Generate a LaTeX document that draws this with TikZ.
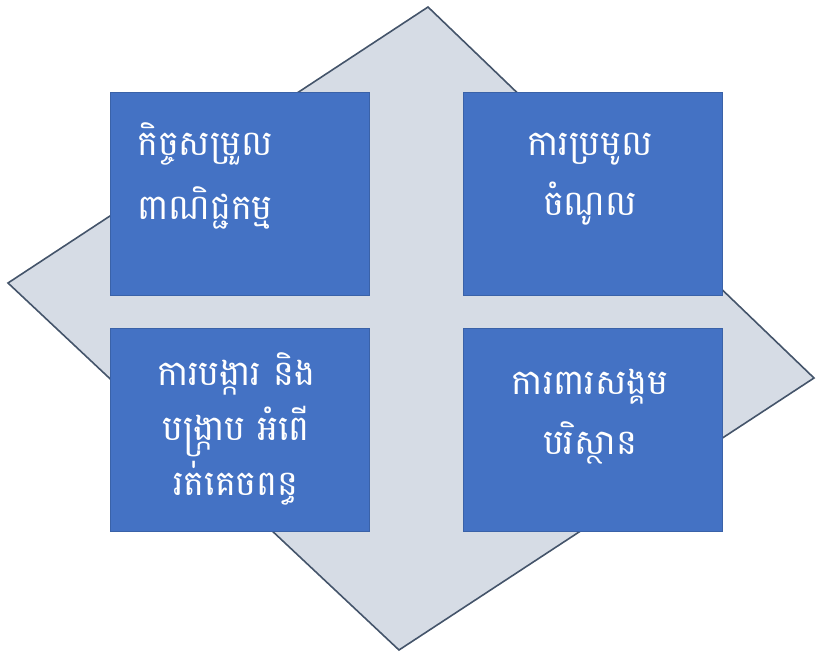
\documentclass[tikz,border=0pt]{standalone}
\usepackage{fontspec}
\newfontfamily\khmerfont[Script=Khmer]{Battambang}
\usetikzlibrary{positioning}
\definecolor{tileblue}{HTML}{4472C4}
\definecolor{tileline}{HTML}{3A62A8}
\definecolor{backfill}{HTML}{D6DCE5}
\definecolor{backline}{HTML}{44546A}

\begin{document}
\begin{tikzpicture}[
        x=1pt, y=-1pt,
        font=\khmerfont\fontsize{35}{60}\selectfont,
        back/.style={draw=backline, line width=1.6pt, fill=backfill},
        tile/.style={draw=tileline, line width=0.8pt, fill=tileblue,
            minimum width=259pt, minimum height=203pt, inner sep=0pt},
        label/.style={text=white, inner sep=0pt, align=center}
    ]
        \useasboundingbox (0,0) rectangle (816,653);

        % background diamond
        \coordinate (top) at (428,7);
        \coordinate (right) at (814,378);
        \coordinate (bottom) at (399,650);
        \coordinate (left) at (8,283);
        \draw[back] (top) -- (right) -- (bottom) -- (left) -- cycle;

        % four tiles
        \node[tile] (trade) at (239.5,193.5) {};
        \node[tile] (revenue) at (592.5,193.5) {};
        \node[tile] (smuggle) at (239.5,430) {};
        \node[tile] (protect) at (592.5,430) {};

        \node[label, align=left, anchor=west,
            font=\khmerfont\fontsize{35}{64}\selectfont] (tradeText) at (137,176) {
            កិច្ចសម្រួល\\
            ពាណិជ្ជកម្ម
        };
        \node[label] (revenueText) at (590,179) {
            ការប្រមូល\\
            ចំណូល
        };
        \node[label, font=\khmerfont\fontsize{35}{55}\selectfont] (smuggleText) at (236,429) {
            ការបង្ការ និង\\
            បង្ក្រាប អំពើ\\
            រត់គេចពន្ធ
        };
        \node[label] (protectText) at (590,417) {
            ការពារសង្គម\\
            បរិស្ថាន
        };
    \end{tikzpicture}
\end{document}
